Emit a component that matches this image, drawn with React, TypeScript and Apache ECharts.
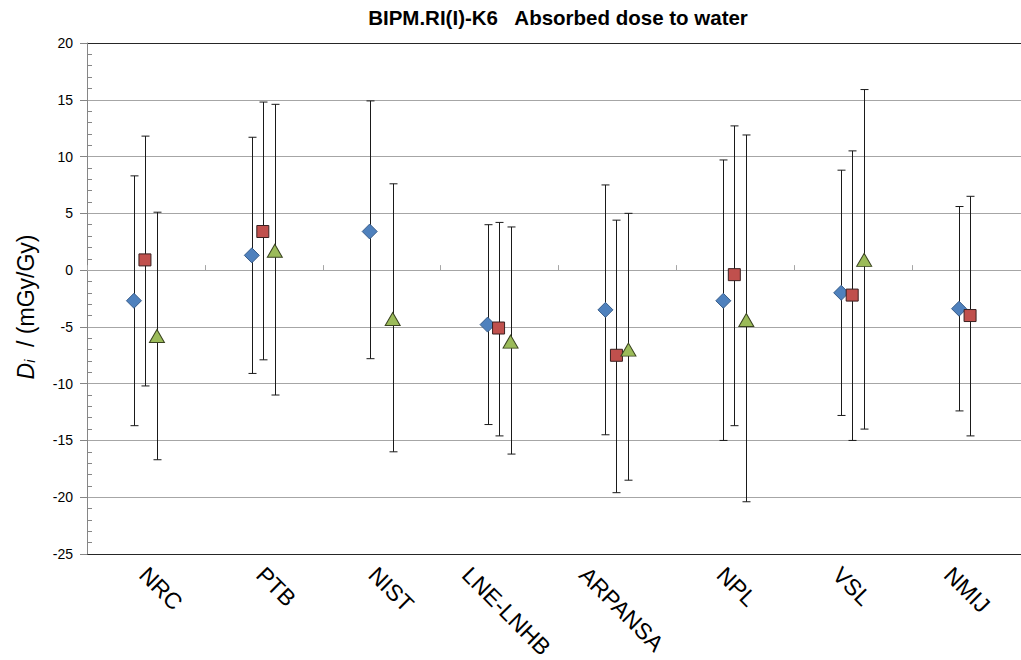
import React, { useEffect, useRef } from 'react';
import * as echarts from 'echarts';

const categories = ['NRC', 'PTB', 'NIST', 'LNE-LNHB', 'ARPANSA', 'NPL', 'VSL', 'NMIJ'];

// Series 1 (blue diamonds)
const blueVal = [-2.7, 1.3, 3.4, -4.8, -3.5, -2.7, -2.0, -3.4];
const blueHigh = [8.3, 11.7, 14.9, 4.0, 7.5, 9.7, 8.8, 5.6];
const blueLow = [-13.7, -9.1, -7.8, -13.6, -14.5, -15.0, -12.8, -12.4];

// Series 2 (red squares)
const redVal = [0.9, 3.4, null, -5.1, -7.5, -0.4, -2.2, -4.0];
const redHigh = [11.8, 14.8, null, 4.2, 4.4, 12.7, 10.5, 6.5];
const redLow = [-10.2, -7.9, null, -14.6, -19.6, -13.7, -15.0, -14.6];

// Series 3 (green triangles)
const greenVal = [-5.8, 1.7, -4.3, -6.3, -7.0, -4.4, 0.9, null];
const greenHigh = [5.1, 14.6, 7.6, 3.8, 5.0, 11.9, 15.9, null];
const greenLow = [-16.7, -11.0, -16.0, -16.2, -18.5, -20.4, -14.0, null];

const yMin = -25;
const yMax = 20;
const yInterval = 5;

const FONT = 'Liberation Sans, Arial, sans-serif';
const LABEL_SIZE = 23;

export default function App() {
  const ref = useRef<HTMLDivElement>(null);

  useEffect(() => {
    document.body.style.margin = '0';
    const chart = echarts.init(ref.current!, null, { renderer: 'svg' });

    const build = (vals: (number | null)[], lows: (number | null)[], highs: (number | null)[]) =>
      vals
        .map((v, i) => (v == null ? null : [i, v, lows[i], highs[i]]))
        .filter((d) => d !== null) as number[][];

    const errSeries = (name: string, data: number[][], offset: number) => ({
      type: 'custom',
      name: name + ' error',
      xAxisIndex: 0,
      yAxisIndex: 0,
      z: 3,
      silent: true,
      data,
      encode: { x: 0, y: [1, 2, 3] },
      renderItem: (_params: any, api: any) => {
        const c = api.coord([api.value(0), api.value(1)]);
        const x = Math.round(c[0] + offset) + 0.5;
        const yH = api.coord([api.value(0), api.value(3)])[1];
        const yL = api.coord([api.value(0), api.value(2)])[1];
        const st = { stroke: '#1a1a1a', lineWidth: 1 };
        return {
          type: 'group',
          children: [
            { type: 'line', shape: { x1: x, y1: yH, x2: x, y2: yL }, style: st },
            { type: 'line', shape: { x1: x - 4, y1: yH, x2: x + 4, y2: yH }, style: st },
            { type: 'line', shape: { x1: x - 4, y1: yL, x2: x + 4, y2: yL }, style: st },
          ],
        };
      },
    });

    const blueData = build(blueVal, blueLow, blueHigh);
    const redData = build(redVal, redLow, redHigh);
    const greenData = build(greenVal, greenLow, greenHigh);

    const nLines = Math.round((yMax - yMin) / yInterval) + 1;
    const splitColors = Array.from({ length: nLines }, (_, i) =>
      i === 0 || i === nLines - 1 ? '#262626' : '#a6a6a6'
    );

    const option: any = {
      animation: false,
      grid: { left: 87, top: 43, width: 943, height: 511, containLabel: false },
      xAxis: [
        {
          type: 'category',
          data: categories,
          position: 'bottom',
          boundaryGap: true,
          axisLine: { show: false, onZero: false },
          axisTick: { show: false },
          axisLabel: { show: false },
          splitLine: { show: false },
        },
        {
          type: 'category',
          data: categories,
          position: 'bottom',
          boundaryGap: true,
          axisLine: { show: true, onZero: true, lineStyle: { color: '#a6a6a6', width: 1 } },
          axisTick: { show: true, inside: true, length: 5, lineStyle: { color: '#a6a6a6' } },
          axisLabel: { show: false },
          splitLine: { show: false },
        },
      ],
      yAxis: [
        {
          type: 'value',
          min: yMin,
          max: yMax,
          interval: yInterval,
          position: 'left',
          axisLine: { show: true, lineStyle: { color: '#868686', width: 1 } },
          axisTick: { show: true, length: 7, lineStyle: { color: '#868686' } },
          axisLabel: { fontSize: 14, fontFamily: FONT, color: '#000', margin: 14 },
          splitLine: { show: true, lineStyle: { color: splitColors, width: 1 } },
        },
        {
          type: 'value',
          min: yMin,
          max: yMax,
          interval: yInterval,
          position: 'left',
          axisLine: { show: false },
          axisTick: { show: false, inside: true },
          minorTick: { show: true, splitNumber: 5, length: 5, lineStyle: { color: '#868686' } },
          axisLabel: { show: false },
          splitLine: { show: false },
        },
      ],
      graphic: [
        {
          id: 'title',
          type: 'text',
          x: 558,
          y: 17,
          style: {
            text: 'BIPM.RI(I)-K6   Absorbed dose to water',
            font: 'bold 20.5px ' + FONT,
            fill: '#000',
            align: 'center',
            verticalAlign: 'middle',
          },
        },
        {
          id: 'yname',
          type: 'text',
          x: 24,
          y: 307,
          rotation: Math.PI / 2,
          style: {
            text: '{d|D}{s|i}{n|  / (mGy/Gy)}',
            align: 'center',
            verticalAlign: 'middle',
            fill: '#000',
            rich: {
              d: { fontSize: 23, fontStyle: 'italic', fontFamily: FONT, fill: '#000', lineHeight: 26, verticalAlign: 'bottom' },
              s: { fontSize: 14, fontStyle: 'italic', fontFamily: FONT, fill: '#000', lineHeight: 14, verticalAlign: 'bottom' },
              n: { fontSize: 23, fontFamily: FONT, fill: '#000', lineHeight: 26, verticalAlign: 'bottom' },
            },
          },
        },
      ],
      series: [
        errSeries('Series 1', blueData, -12),
        errSeries('Series 2', redData, -1),
        errSeries('Series 3', greenData, 11),
        {
          type: 'scatter',
          name: 'Series 1',
          z: 5,
          data: blueData.map((d) => [d[0], d[1]]),
          symbol: 'diamond',
          symbolSize: [15, 15],
          symbolOffset: [-12, 0],
          itemStyle: { color: '#4f81bd', borderColor: '#385d8a', borderWidth: 1, opacity: 1 },
        },
        {
          type: 'scatter',
          name: 'Series 2',
          z: 5,
          data: redData.map((d) => [d[0], d[1]]),
          symbol: 'rect',
          symbolSize: [12, 12],
          symbolOffset: [-1, 0],
          itemStyle: { color: '#c0504d', borderColor: '#3a2020', borderWidth: 1, opacity: 1 },
        },
        {
          type: 'scatter',
          name: 'Series 3',
          z: 5,
          data: greenData.map((d) => [d[0], d[1]]),
          symbol: 'triangle',
          symbolSize: [15, 13],
          symbolOffset: [11, 0],
          itemStyle: { color: '#9bbb59', borderColor: '#3a4420', borderWidth: 1, opacity: 1 },
        },
      ],
    };

    chart.setOption(option);

    // Category labels, rotated -45deg, tops aligned just under the plot (Excel-style placement)
    const ctx = document.createElement('canvas').getContext('2d')!;
    ctx.font = `${LABEL_SIZE}px Liberation Sans`;
    const inkH = LABEL_SIZE * 0.72;
    const labelTop = 565;
    const labelEls = categories.map((cat, i) => {
      const px = chart.convertToPixel({ xAxisIndex: 0 }, cat) as number;
      const L = ctx.measureText(cat).width;
      const half = (L + inkH) / (2 * Math.SQRT2);
      return {
        id: 'xl' + i,
        type: 'text',
        x: px + 15 - 2.7 * i,
        y: labelTop + half,
        rotation: -Math.PI / 4,
        style: {
          text: cat,
          font: `${LABEL_SIZE}px ${FONT}`,
          fill: '#000',
          align: 'center',
          verticalAlign: 'middle',
        },
      };
    });
    chart.setOption({ graphic: labelEls });

    return () => chart.dispose();
  }, []);

  return (
    <div
      style={{ position: 'absolute', left: 0, top: 0, width: 1021, height: 660, overflow: 'hidden', background: '#fff' }}
    >
      <div ref={ref} style={{ width: 1040, height: 660 }} />
    </div>
  );
}
